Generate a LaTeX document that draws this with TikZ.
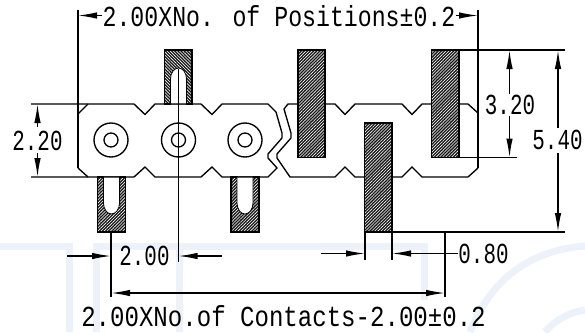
\documentclass[tikz,border=0pt]{standalone}
\usepackage{fontspec}
\usetikzlibrary{arrows.meta,patterns.meta}
\newfontfamily\dimfont[FakeStretch=0.80]{Liberation Mono}
\newfontfamily\contfont[FakeStretch=0.83]{Liberation Mono}
\newfontfamily\numfont[FakeStretch=0.72]{Liberation Mono}
\definecolor{markblue}{HTML}{EDF2FA}
\begin{document}
\begin{tikzpicture}[
    x=1pt, y=-1pt,
    line width=1.35pt,
    dimtext/.style={font=\dimfont\fontsize{29}{30}\selectfont, inner sep=0pt},
    conttext/.style={font=\contfont\fontsize{29}{30}\selectfont, inner sep=0pt},
    numtext/.style={font=\numfont\fontsize{29}{30}\selectfont, inner sep=0pt},
    dimarrow/.style={-{Latex[length=19pt,width=6.5pt]}, line width=1.35pt},
    hatchup/.style={draw, preaction={fill=black!90}, pattern={Lines[angle=45,distance=2.2pt,line width=0.6pt]}, pattern color=white},
    hatchdown/.style={draw, preaction={fill=black!90}, pattern={Lines[angle=-45,distance=2.2pt,line width=0.6pt]}, pattern color=white},
    slot/.style={fill=white, line width=0.8pt, draw},
    watermark/.style={draw=markblue, line width=7pt}
]
\useasboundingbox (0,0) rectangle (585,332);

% Background mark
\draw[watermark] (0,246.5) -- (69.5,246.5) -- (69.5,332);
\draw[watermark] (96.5,332) -- (96.5,246.5) -- (424.5,246.5) -- (424.5,300);
\draw[watermark] (179.5,246.5) -- (179.5,332);
\draw[watermark] (470,332) .. controls (490,280) and (530,250) .. (585,246);
\draw[watermark] (545,332) .. controls (555,320) and (570,312) .. (585,310);

% Pins with slots, behind the body
\path[hatchdown] (164.5,50) rectangle (192,104);
\draw[slot] (170.5,104.5) -- (170.5,79) arc[start angle=180, end angle=360, x radius=8, y radius=11] -- (186.5,104.5);
\path[hatchup] (97.5,177) rectangle (125.5,232);
\draw[slot] (103.5,176.5) -- (103.5,203) arc[start angle=180, end angle=0, x radius=8, y radius=11] -- (119.5,176.5);
\path[hatchup] (231,177) rectangle (259,232);
\draw[slot] (237,176.5) -- (237,203) arc[start angle=180, end angle=0, x radius=8, y radius=11] -- (253,176.5);

% Body outline
\draw (31,104) -- (134,104) -- (145,114.5) -- (155,104) -- (201,104) -- (212,114.5) -- (222,104) -- (268,104) -- (276,112) -- (282,133) -- (282,138) -- (268,154) -- (268,158) -- (277,168) -- (268,177) -- (222,177) -- (212,167) -- (201,177) -- (155,177) -- (145,167) -- (134,177) -- (31,177);
\draw (88,104) -- (78,114);
\draw (88,177) -- (78,168);
\draw (298,104) -- (288,104) -- (284,109) -- (291,133) -- (291,138) -- (277,154) -- (277,158) -- (290,177) -- (335,177) -- (345,167) -- (355,177) -- (365,177);
\draw (325,104) -- (335,104) -- (345,114.5) -- (355,104) -- (402,104) -- (412,114.5) -- (422,104) -- (432,104);
\draw (459,104) -- (468,104) -- (478,113);
\draw (392,177) -- (402,177) -- (412,167) -- (422,177) -- (468,177) -- (478,168);

% Plain pins
\path[hatchup] (298,50) rectangle (325,157.5) (431.5,50) rectangle (459,157.5) (364.5,123) rectangle (392,232);

% Holes
\draw (111,140) circle[radius=17] (111,140) circle[radius=7];
\draw (178.5,140) circle[radius=17] (178.5,140) circle[radius=7];
\draw (245,140) circle[radius=17] (245,140) circle[radius=7];

% Extension lines
\draw (78,10) -- (78,168);
\draw (478,10) -- (478,168);
\draw (459,50) -- (565,50);
\draw (459,157.5) -- (516.5,157.5);
\draw (392,232) -- (565,232);
\draw (178.5,69) -- (178.5,262);
\draw (111,232) -- (111,297);
\draw (445,232) -- (445,297);
\draw (365,232) -- (365,260);
\draw (392,232) -- (392,260);

% Labels
\node[dimtext] (positions) at (279,16) {2.00XNo. of Positions±0.2};
\node[conttext] (contacts) at (283.5,316) {2.00XNo.of Contacts-2.00±0.2};
\node[numtext] (bodyh) at (37.5,140.5) {2.20};
\node[numtext] (pinh) at (510,105) {3.20};
\node[numtext] (totalh) at (557.5,140) {5.40};
\node[numtext] (pitch) at (144.5,256) {2.00};
\node[numtext] (pinw) at (483.5,253.5) {0.80};

% Arrows
\coordinate (posl) at (78,15.5);
\coordinate (posr) at (478,15.5);
\draw[dimarrow] (positions.west |- posl) -- (posl);
\draw[dimarrow] (positions.east |- posr) -- (posr);
\draw[dimarrow] (37.5,127) -- (37.5,104);
\draw[dimarrow] (37.5,153) -- (37.5,177);
\draw[dimarrow] (509.5,94) -- (509.5,50);
\draw[dimarrow] (509.5,116) -- (509.5,157.5);
\draw[dimarrow] (558,128) -- (558,50);
\draw[dimarrow] (558,153) -- (558,232);
\draw[dimarrow] (67,256) -- (111,256);
\draw[dimarrow] (222,256) -- (178.5,256);
\draw[dimarrow] (321,253.5) -- (365,253.5);
\draw[dimarrow] (pinw.west) -- (392,253.5);
\draw[{Latex[length=19pt,width=6.5pt]}-{Latex[length=19pt,width=6.5pt]}] (111,293) -- (445,293);

\end{tikzpicture}
\end{document}
